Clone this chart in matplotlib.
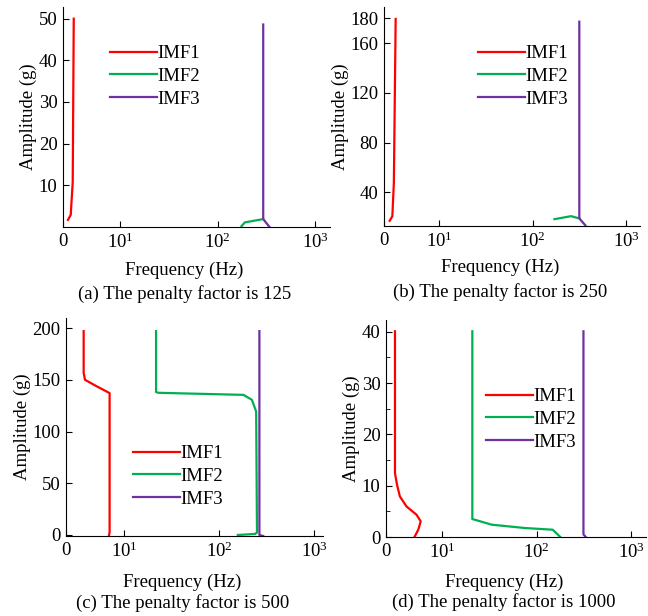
import matplotlib
matplotlib.use('Agg')
import matplotlib.pyplot as plt
from matplotlib.ticker import FixedLocator, NullLocator

plt.rcParams['font.family'] = ['Liberation Serif', 'DejaVu Serif']
plt.rcParams['mathtext.fontset'] = 'custom'
plt.rcParams['mathtext.rm'] = 'Liberation Serif'
plt.rcParams['mathtext.it'] = 'Liberation Serif:italic'

# colours of the three modes
colors = ['#FF0000', '#00B050', '#7030A0']
labels = ['IMF1', 'IMF2', 'IMF3']
captions = ['(a) The penalty factor is 125', '(b) The penalty factor is 250',
            '(c) The penalty factor is 500', '(d) The penalty factor is 1000']

# (a) penalty 125
a_f1 = [2.92, 3.12, 3.27, 3.35]
a_a1 = [1.7, 2.9, 10.8, 50]
a_f2 = [175, 189, 292]
a_a2 = [0.2, 1.1, 1.9]
a_f3 = [292, 292, 336]
a_a3 = [48.6, 1.9, 0.1]

# (b) penalty 250
b_f1 = [2.98, 3.18, 3.3, 3.45]
b_a1 = [17.2, 20.9, 47.7, 179.4]
b_f2 = [171, 257, 315]
b_a2 = [18.5, 20.9, 19.1]
b_f3 = [315, 315, 365]
b_a3 = [177.2, 19.1, 13.6]

# (c) penalty 500
c_f1 = [3.73, 3.73, 3.85, 5.16, 7.0, 7.0, 6.9]
c_a1 = [197.3, 156.8, 150.2, 143.7, 137.3, 2.5, 0]
c_f2 = [21.6, 21.6, 23, 180, 221, 245, 250, 240, 157]
c_a2 = [197.3, 138.3, 137.6, 135.6, 130.8, 119.4, 2.5, 1, 0]
c_f3 = [265, 265, 290]
c_a3 = [197.3, 0, -1]

# (d) penalty 1000
d_f1 = [3.15, 3.15, 3.31, 3.55, 4.17, 5.33, 5.9, 5.56, 5.1]
d_a1 = [40.1, 12.45, 10.2, 7.9, 5.96, 4.34, 3.04, 1.42, 0.1]
d_f2 = [20.8, 20.8, 33.4, 75, 148, 178]
d_a2 = [40.1, 3.5, 2.4, 1.75, 1.42, 0]
d_f3 = [313, 313, 331]
d_a3 = [40.1, 0.5, 0]

panels = [
    [(a_f1, a_a1), (a_f2, a_a2), (a_f3, a_a3)],
    [(b_f1, b_a1), (b_f2, b_a2), (b_f3, b_a3)],
    [(c_f1, c_a1), (c_f2, c_a2), (c_f3, c_a3)],
    [(d_f1, d_a1), (d_f2, d_a2), (d_f3, d_a3)],
]
yticks = [[10, 20, 30, 40, 50], [40, 80, 120, 160, 180],
          [0, 50, 100, 150, 200], [0, 10, 20, 30, 40]]
ylims = [(0, 52.8), (13, 189), (-1, 210), (0, 42.3)]
xlims = [(2.6, 1410), (2.59, 1400), (2.43, 1240), (2.53, 1440)]

W, H = 648, 616
FS = 13.5
# axes boxes in pixels: left, top, right, bottom
boxes = [(63, 7, 330, 227), (384, 7, 640, 226), (66, 318, 323, 536), (386, 320, 646, 537)]
legend_pos = [(110, 51), (478, 51), (133, 451), (486, 394)]
freq_y = [270, 267, 582, 582]
cap_y = [294, 292, 603, 602]

fig = plt.figure(figsize=(W / 100, H / 100), dpi=100)

for i in range(4):
    l, t, r, b = boxes[i]
    ax = fig.add_axes([l / W, 1 - b / H, (r - l) / W, (b - t) / H])
    for (f, a), c, lab in zip(panels[i], colors, labels):
        ax.plot(f, a, color=c, lw=1.6, label=lab)
    ax.set_xscale('log')
    ax.set_xlim(*xlims[i])
    ax.set_ylim(*ylims[i])
    ax.xaxis.set_major_locator(FixedLocator([xlims[i][0], 10, 100, 1000]))
    ax.xaxis.set_minor_locator(NullLocator())
    ax.set_xticklabels(['0', '$10^{1}$', '$10^{2}$', '$10^{3}$'])
    ax.set_yticks(yticks[i])
    if i == 3:
        ax.set_yticks([5, 15, 25, 35], minor=True)
    ax.spines['top'].set_visible(False)
    ax.spines['right'].set_visible(False)
    ax.tick_params(direction='in', labelsize=FS, length=4, pad=4)
    ax.tick_params(which='minor', direction='in', length=3)
    ax.set_ylabel('Amplitude (g)', fontsize=FS, labelpad=1)
    cx = (l + r) / 2 - 12
    fig.text(cx / W, 1 - freq_y[i] / H, 'Frequency (Hz)', ha='center', va='center', fontsize=FS)
    fig.text(cx / W, 1 - cap_y[i] / H, captions[i], ha='center', va='center', fontsize=FS)
    lx, ly = legend_pos[i]
    fig.legend(loc='upper left', bbox_to_anchor=(lx / W, 1 - (ly - 6) / H),
               frameon=False, fontsize=FS, handlelength=2.5, handletextpad=0.0,
               labelspacing=0.3, borderpad=0, borderaxespad=0,
               handles=ax.get_lines())

fig.savefig('out.png', dpi=100)
